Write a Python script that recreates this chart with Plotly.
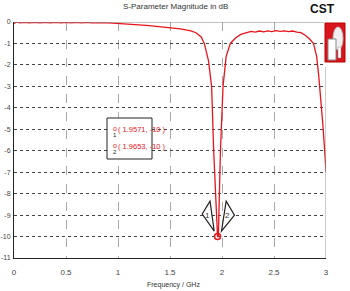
import plotly.graph_objects as go

# ---- data ----
freq = [0.00, 0.03, 0.06, 0.10, 0.15, 0.20, 0.25, 0.30, 0.35, 0.40, 0.45, 0.50,
        0.55, 0.60, 0.65, 0.70, 0.75, 0.80, 0.85, 0.90, 0.95, 1.00, 1.10, 1.20,
        1.30, 1.40, 1.50, 1.60, 1.70, 1.75, 1.80, 1.83, 1.87, 1.90, 1.92, 1.94,
        1.957, 1.965, 1.975, 1.985, 2.01, 2.04, 2.08, 2.13, 2.18, 2.24, 2.28,
        2.32, 2.36, 2.40, 2.44, 2.48, 2.52, 2.56, 2.60, 2.64, 2.68, 2.72, 2.76,
        2.80, 2.84, 2.88, 2.91, 2.93, 2.95, 2.97, 2.99, 3.00]
s11_db = [-0.06, 0.00, -0.04, -0.02, -0.04, -0.02, -0.04, -0.02, -0.04, -0.02, -0.04, -0.02,
          -0.04, -0.02, -0.04, -0.02, -0.04, -0.03, -0.04, -0.04, -0.05, -0.06, -0.09, -0.13,
          -0.17, -0.21, -0.26, -0.32, -0.41, -0.50, -0.70, -1.00, -1.80, -3.00, -6.00, -8.50,
          -10.0, -10.0, -8.00, -6.00, -3.00, -1.60, -1.00, -0.75, -0.58, -0.50, -0.44,
          -0.47, -0.42, -0.46, -0.41, -0.45, -0.40, -0.44, -0.41, -0.45, -0.42, -0.47, -0.50,
          -0.62, -0.78, -1.00, -1.60, -2.50, -3.50, -4.80, -6.20, -7.00]

marker_freq = [1.9571, 1.9653]
marker_db = [-10, -10]
marker_labels = ["( 1.9571, -10 )", "( 1.9653, -10 )"]

x_ticks = [0, 0.5, 1, 1.5, 2, 2.5, 3]
x_tick_text = ["0", "0.5", "1", "1.5", "2", "2.5", "3"]
y_ticks = [0, -1, -2, -3, -4, -5, -6, -7, -8, -9, -10, -11]
y_tick_text = ["0", "-1", "-2", "-3", "-4", "-5", "-6", "-7", "-8", "-9", "-10", "-11"]

FONT = "Liberation Sans, Arial, sans-serif"
RED = "#e8141c"

fig = go.Figure()
fig.add_trace(go.Scatter(x=freq, y=s11_db, mode="lines",
                         line=dict(color=RED, width=1.3), showlegend=False, hoverinfo="skip"))
fig.add_trace(go.Scatter(x=[marker_freq[0]], y=[marker_db[0]], mode="markers",
                         marker=dict(symbol="circle-open", size=6, color=RED, line=dict(width=1.5)),
                         showlegend=False, hoverinfo="skip"))

L, R, T, B = 14, 326, 22, 258
PW, PH = R - L, B - T


def px(x):
    return (x - L) / PW


def py(y):
    return (B - y) / PH


shapes = []
# top border at 0 and right border
shapes.append(dict(type="line", xref="x", yref="y", x0=0, x1=2.98, y0=0, y1=0,
                   line=dict(color="#888", width=1)))
shapes.append(dict(type="line", xref="x", yref="y", x0=3.0, x1=3.0, y0=-2.1, y1=-11,
                   line=dict(color="#999", width=1)))
# marker info box
shapes.append(dict(type="rect", xref="paper", yref="paper", x0=px(107), x1=px(152),
                   y0=py(159), y1=py(118),
                   line=dict(color="#222", width=1), fillcolor="white", layer="above"))
# marker diamonds (1 and 2)
shapes.append(dict(type="path", xref="x", yref="y",
                   path="M 1.885,-8.35 L 1.81,-8.95 L 1.925,-9.75 Z",
                   line=dict(color="#222", width=1.2), fillcolor="white"))
shapes.append(dict(type="path", xref="x", yref="y",
                   path="M 2.04,-8.35 L 2.12,-9.0 L 1.995,-9.75 Z",
                   line=dict(color="#222", width=1.2), fillcolor="white"))
# CST logo
shapes.append(dict(type="rect", xref="paper", yref="paper",
                   x0=px(325), x1=px(345), y0=py(62), y1=py(23),
                   line=dict(color="#b00", width=1), fillcolor="#d8141c"))
shapes.append(dict(type="circle", xref="paper", yref="paper",
                   x0=px(333), x1=px(343), y0=py(50), y1=py(27),
                   line=dict(color="#bbb", width=1), fillcolor="#f0f0f0"))
shapes.append(dict(type="rect", xref="paper", yref="paper",
                   x0=px(328), x1=px(336), y0=py(60), y1=py(39),
                   line=dict(color="#888", width=1), fillcolor="white"))
shapes.append(dict(type="rect", xref="paper", yref="paper",
                   x0=px(338), x1=px(341), y0=py(58), y1=py(47),
                   line=dict(color="#888", width=0.5), fillcolor="white"))

annotations = []
# marker info box texts
for i, (lab, yy) in enumerate(zip(marker_labels, [129, 146])):
    annotations.append(dict(x=px(116), y=py(yy), xref="paper", yref="paper", text=lab,
                            showarrow=False, xanchor="left", yanchor="middle",
                            font=dict(family=FONT, size=7.5, color=RED)))
    annotations.append(dict(x=px(111), y=py(yy - 1), xref="paper", yref="paper", text="o",
                            showarrow=False, yanchor="middle",
                            font=dict(family=FONT, size=7, color=RED)))
    annotations.append(dict(x=px(111), y=py(yy + 6), xref="paper", yref="paper",
                            text=str(i + 1), showarrow=False, yanchor="middle",
                            font=dict(family=FONT, size=6, color="#222")))
# diamond numbers
annotations.append(dict(x=1.86, y=-9.0, xref="x", yref="y", text="1", showarrow=False,
                        font=dict(family=FONT, size=8, color="#333")))
annotations.append(dict(x=2.05, y=-9.0, xref="x", yref="y", text="2", showarrow=False,
                        font=dict(family=FONT, size=8, color="#333")))
# title
annotations.append(dict(x=px(175), y=py(7), xref="paper", yref="paper",
                        text="S-Parameter Magnitude in dB", showarrow=False, yanchor="middle",
                        font=dict(family=FONT, size=8, color="#333")))
# x axis title
annotations.append(dict(x=px(173), y=py(285), xref="paper", yref="paper",
                        text="Frequency / GHz", showarrow=False, yanchor="middle",
                        font=dict(family=FONT, size=7, color="#333")))
# CST text
annotations.append(dict(x=px(337), y=py(9), xref="paper", yref="paper",
                        text="<b>CST</b>", showarrow=False, yanchor="middle",
                        font=dict(family="Liberation Sans Narrow, Arial Narrow, sans-serif",
                                  size=12, color="#111")))

fig.update_layout(
    width=350, height=291,
    margin=dict(l=L, r=350 - R, t=T, b=291 - B, autoexpand=False),
    paper_bgcolor="white", plot_bgcolor="white",
    showlegend=False,
    shapes=shapes, annotations=annotations,
    xaxis=dict(range=[0, 3], tickvals=x_ticks, ticktext=x_tick_text,
               showgrid=True, gridcolor="#aaa", griddash="dash", gridwidth=1,
               showline=True, linecolor="#222", linewidth=1, zeroline=False,
               ticks="", ticklabelstandoff=6, automargin=False,
               tickfont=dict(family=FONT, size=8, color="#444"),
               fixedrange=True),
    yaxis=dict(range=[-11, 0], tickvals=y_ticks, ticktext=y_tick_text,
               showgrid=True, gridcolor="#444", griddash="dot", gridwidth=1,
               showline=True, linecolor="#222", linewidth=1, zeroline=False,
               ticks="", ticklabelstandoff=1,
               automargin=False,
               tickfont=dict(family=FONT, size=7, color="#444"),
               fixedrange=True),
)

fig.write_html("out.html")
